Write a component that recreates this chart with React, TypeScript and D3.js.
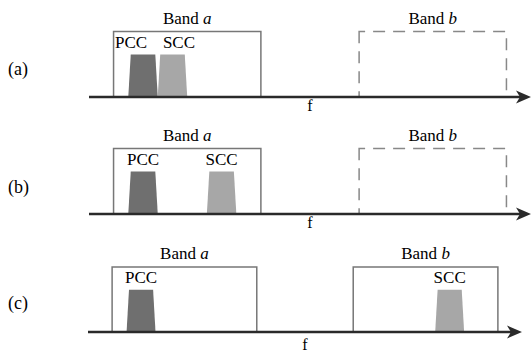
import React from "react";
import { scaleLinear, line } from "d3";

// frequency units along the f axis
const freqDomain = [5, 95];
const panelNames = ["(a)", "(b)", "(c)"];
const bandNames = ["a", "b"];
const bandStart = [10, 60];
const bandEnd = [40, 90];
// band b is only "configured" (solid) in panel (c)
const bandSolid = [
  [true, false],
  [true, false],
  [true, true],
];
const carrierNames = ["PCC", "SCC"];
const pccCenter = [16, 16, 16];
const sccCenter = [22, 32, 80];
const carrierBase = 6;
const carrierTop = 5;
const carrierLevel = 0.65;

const width = 532;
const height = 354;

// layout per panel (pixels)
const layout = [
  { axisY: 97, boxTop: 31.5, x0: 89, x1: 531, fY: 111, labelY: 75, dx: [-12, 6.5] },
  { axisY: 214, boxTop: 148.5, x0: 89, x1: 531, fY: 228, labelY: 193, dx: [0, 0] },
  { axisY: 332, boxTop: 267, x0: 88, x1: 522, fY: 350, labelY: 309, dx: [0, 0] },
];

const font = "Liberation Serif, DejaVu Serif, serif";
const carrierFill = ["#6f6f6f", "#a7a7a7"];

const Panel = ({ i }: { i: number }) => {
  const L = layout[i];
  const x = scaleLinear().domain(freqDomain).range([L.x0, L.x1]);
  const y = scaleLinear().domain([0, 1]).range([L.axisY, L.boxTop]);
  const centers = [pccCenter[i], sccCenter[i]];
  const trap = line<[number, number]>()
    .x((d) => x(d[0]))
    .y((d) => y(d[1]));
  const tip = x(freqDomain[1]);
  const ay = L.axisY;
  const txt = { fontFamily: font };

  return (
    <g>
      <text x={8} y={L.labelY} style={txt} fontSize={18}>
        {panelNames[i]}
      </text>
      {bandNames.map((b, j) => (
        <g key={b}>
          <rect
            x={x(bandStart[j])}
            y={y(1)}
            width={x(bandEnd[j]) - x(bandStart[j])}
            height={y(0) - y(1)}
            fill="none"
            stroke={bandSolid[i][j] ? "#777" : "#888"}
            strokeWidth={1.5}
            strokeDasharray={bandSolid[i][j] ? undefined : "12 8"}
            strokeDashoffset={bandSolid[i][j] ? 0 : 6}
          />
          <text
            x={(x(bandStart[j]) + x(bandEnd[j])) / 2}
            y={y(1) - 8}
            textAnchor="middle"
            style={txt}
            fontSize={17}
          >
            Band <tspan fontStyle="italic">{b}</tspan>
          </text>
        </g>
      ))}
      {carrierNames.map((c, k) => {
        const m = centers[k];
        const pts: [number, number][] = [
          [m - carrierBase / 2, 0],
          [m - carrierTop / 2, carrierLevel],
          [m + carrierTop / 2, carrierLevel],
          [m + carrierBase / 2, 0],
        ];
        return (
          <g key={c}>
            <path d={trap(pts) + "Z"} fill={carrierFill[k]} />
            <text
              x={x(m) + L.dx[k]}
              y={y(carrierLevel) - 6.5}
              textAnchor="middle"
              style={txt}
              fontSize={17}
            >
              {c}
            </text>
          </g>
        );
      })}
      <line x1={x(freqDomain[0])} x2={tip - 8} y1={ay} y2={ay} stroke="#2a2a2a" strokeWidth={2.5} />
      <path
        d={`M${tip},${ay} L${tip - 15},${ay - 6.5} L${tip - 11},${ay} L${tip - 15},${ay + 6.5} Z`}
        fill="#2a2a2a"
      />
      <text x={x(50)} y={L.fY} textAnchor="middle" style={txt} fontSize={16}>
        f
      </text>
    </g>
  );
};

export default function App() {
  return (
    <svg
      width={width}
      height={height}
      style={{ position: "absolute", left: 0, top: 0, background: "#fff" }}
    >
      {panelNames.map((p, i) => (
        <Panel key={p} i={i} />
      ))}
    </svg>
  );
}
